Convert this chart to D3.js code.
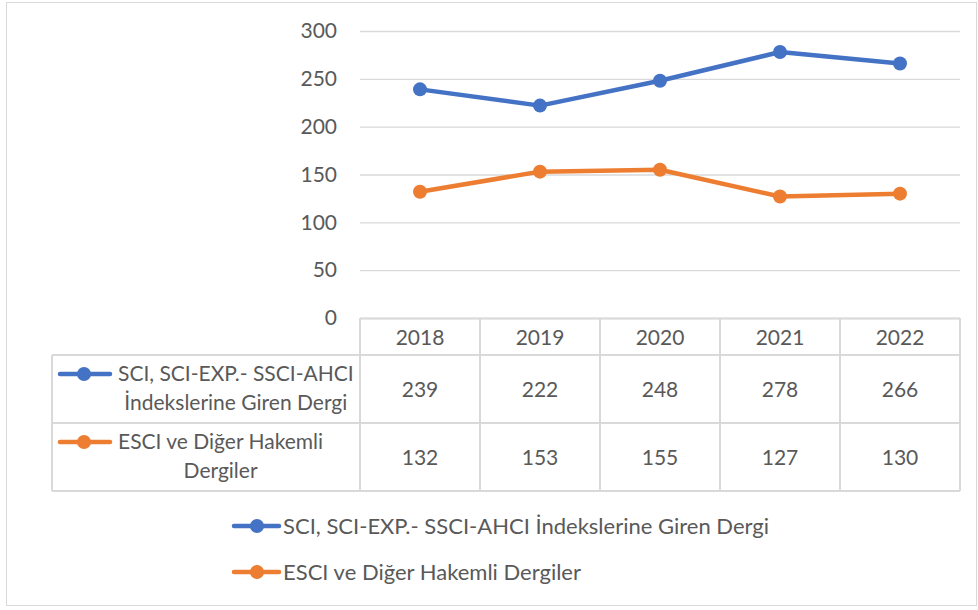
<!DOCTYPE html>
<html><head><meta charset="utf-8">
<script src="https://cdn.jsdelivr.net/npm/d3@7"></script>
<style>body{margin:0;background:#fff}svg text{font-family:Lato,"Open Sans",sans-serif;fill:#595959}</style>
</head><body><svg id="c" width="978" height="610"></svg>
<script>
const years = ["2018","2019","2020","2021","2022"];
const seriesNames = ["SCI, SCI-EXP.- SSCI-AHCI İndekslerine Giren Dergi","ESCI ve Diğer Hakemli Dergiler"];
const tableLabels = [["SCI, SCI-EXP.- SSCI-AHCI","İndekslerine Giren Dergi"],["ESCI ve Diğer Hakemli","Dergiler"]];
const sciValues = [239,222,248,278,266];
const esciValues = [132,153,155,127,130];
const colors = ["#4472C4","#ED7D31"];
const yTicks = [0,50,100,150,200,250,300];

const svg = d3.select("#c");
svg.append("rect").attr("x",6.5).attr("y",2.5).attr("width",970).attr("height",603).attr("fill","#fff").attr("stroke","#d9d9d9");

const x0 = 360, x1 = 960, yTop = 31, yBot = 318;
const x = d3.scaleBand().domain(years).range([x0,x1]);
const y = d3.scaleLinear().domain([0,300]).range([yBot,yTop]);
const numSize = "21px", txtSize = "22px", lblSize = "21px";

svg.append("g").selectAll("line").data(yTicks).join("line")
  .attr("x1",x0).attr("x2",x1).attr("y1",d=>y(d)+0.5).attr("y2",d=>y(d)+0.5)
  .attr("stroke","#d9d9d9").attr("stroke-width",1.3);
const yAxis = d3.axisLeft(y).tickValues(yTicks).tickSize(0).tickPadding(0);
const ga = svg.append("g").attr("transform",`translate(${x0-23},0)`).call(yAxis);
ga.select(".domain").remove();
ga.selectAll("text").style("font-size",numSize).attr("fill","#595959").attr("font-family","Lato");

const data = [sciValues, esciValues];
const line = d3.line().x((d,i)=>x(years[i])+x.bandwidth()/2).y(d=>y(d));
data.forEach((vals,k)=>{
  svg.append("path").datum(vals).attr("d",line).attr("fill","none")
    .attr("stroke",colors[k]).attr("stroke-width",4.5).attr("stroke-linejoin","round").attr("stroke-linecap","round");
  svg.append("g").selectAll("circle").data(vals).join("circle")
    .attr("cx",(d,i)=>x(years[i])+x.bandwidth()/2).attr("cy",d=>y(d)).attr("r",7).attr("fill",colors[k]);
});

const rowH = [yBot, 355, 423, 491];
const tblLeft = 52;
const tg = svg.append("g");
const gray = "#d9d9d9";
tg.append("line").attr("x1",x0).attr("x2",x1).attr("y1",rowH[0]+0.5).attr("y2",rowH[0]+0.5).attr("stroke",gray).attr("stroke-width",2);
[1,2,3].forEach(i=>tg.append("line").attr("x1",tblLeft).attr("x2",x1).attr("y1",rowH[i]).attr("y2",rowH[i]).attr("stroke",gray).attr("stroke-width",2));
tg.append("line").attr("x1",tblLeft).attr("x2",tblLeft).attr("y1",rowH[1]).attr("y2",rowH[3]).attr("stroke",gray).attr("stroke-width",2);
years.concat(["end"]).forEach((yr,i)=>{
  const xx = i<years.length ? x(yr) : x1;
  tg.append("line").attr("x1",xx).attr("x2",xx).attr("y1",rowH[0]).attr("y2",rowH[3]).attr("stroke",gray).attr("stroke-width",2);
});
tg.selectAll("text.h").data(years).join("text").attr("class","h")
  .attr("x",d=>x(d)+x.bandwidth()/2).attr("y",(rowH[0]+rowH[1])/2+8)
  .attr("text-anchor","middle").style("font-size",numSize).text(d=>d);
data.forEach((vals,k)=>{
  const ty = (rowH[k+1]+rowH[k+2])/2;
  tg.append("g").selectAll("text").data(vals).join("text")
    .attr("x",(d,i)=>x(years[i])+x.bandwidth()/2).attr("y",ty+8)
    .attr("text-anchor","middle").style("font-size",numSize).text(d=>d);
  const lines = tableLabels[k].map((t,j)=>tg.append("text").attr("y",ty - 8 + j*29)
      .attr("text-anchor","middle").style("font-size",lblSize).text(t));
  const maxW = d3.max(lines, l=>l.node().getComputedTextLength());
  lines.forEach(l=>l.attr("x",118 + maxW/2));
  tg.append("line").attr("x1",60).attr("x2",110).attr("y1",ty-15).attr("y2",ty-15).attr("stroke",colors[k]).attr("stroke-width",4.5).attr("stroke-linecap","round");
  tg.append("circle").attr("cx",84).attr("cy",ty-15).attr("r",7).attr("fill",colors[k]);
});

const lg = svg.append("g");
[526,572].forEach((ly,k)=>{
  lg.append("line").attr("x1",234).attr("x2",279).attr("y1",ly).attr("y2",ly).attr("stroke",colors[k]).attr("stroke-width",4.5).attr("stroke-linecap","round");
  lg.append("circle").attr("cx",257).attr("cy",ly).attr("r",7).attr("fill",colors[k]);
  lg.append("text").attr("x",283).attr("y",ly+8).style("font-size",txtSize).text(seriesNames[k]);
});
</script></body></html>
